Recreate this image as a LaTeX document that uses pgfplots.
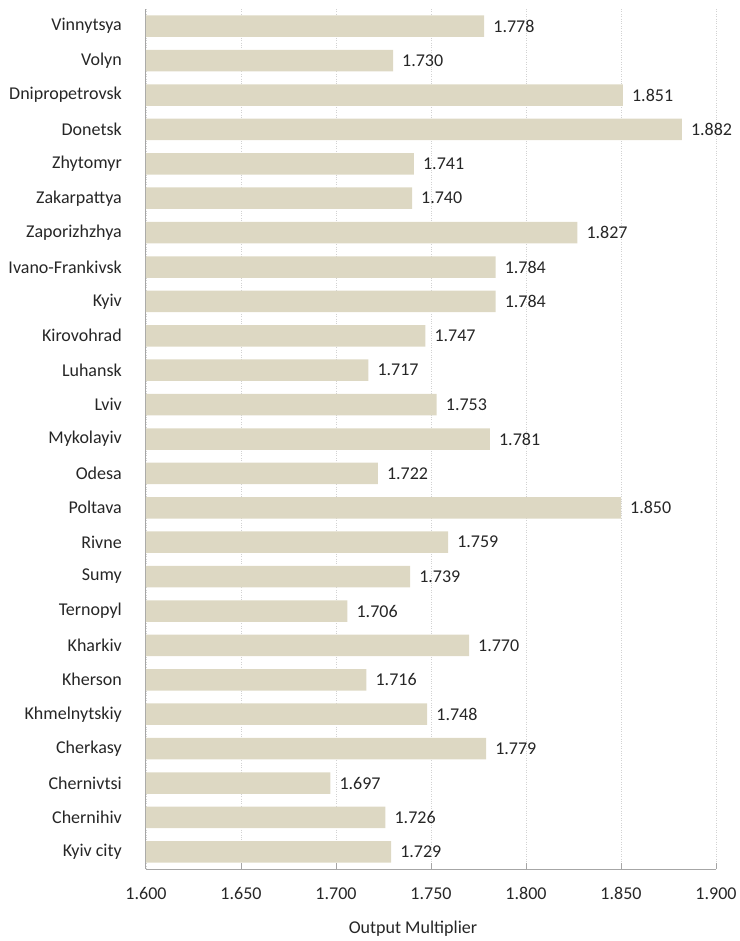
\documentclass[border=0pt]{standalone}
\usepackage{pgfplots}
\pgfplotsset{compat=1.18}
\usepackage{fontspec}
\setmainfont{Carlito}
\definecolor{barc}{HTML}{DDD8C3}
\definecolor{axc}{HTML}{A6A6A6}
\definecolor{txt}{HTML}{262626}
\begin{document}
\begin{tikzpicture}
\begin{axis}[
  scale only axis,
  width=570pt, height=860pt,
  xbar,
  bar width=21.5pt,
  y dir=reverse,
  xmin=1.6, xmax=1.9,
  ymin=-0.5, ymax=24.5,
  xtick={1.6,1.65,1.7,1.75,1.8,1.85,1.9},
  ytick={0,...,24},
  yticklabels={Vinnytsya,Volyn,Dnipropetrovsk,Donetsk,Zhytomyr,Zakarpattya,Zaporizhzhya,Ivano-Frankivsk,Kyiv,Kirovohrad,Luhansk,Lviv,Mykolayiv,Odesa,Poltava,Rivne,Sumy,Ternopyl,Kharkiv,Kherson,Khmelnytskiy,Cherkasy,Chernivtsi,Chernihiv,Kyiv city},
  axis x line*=bottom,
  axis y line*=left,
  axis line style={axc, line width=1pt},
  every outer x axis line/.append style={-},
  every outer y axis line/.append style={-},
  xtick style={axc, line width=1pt},
  xtick align=inside,
  major tick length=6pt,
  ytick style={draw=none},
  xmajorgrids,
  major grid style={gray!35, dotted, line width=0.7pt},
  /pgf/number format/assume math mode=true,
  /pgf/number format/.cd, fixed, fixed zerofill, precision=3, /pgfplots/.cd,
  ticklabel style={font=\fontsize{18}{21}\selectfont, text=txt},
  xticklabel={\rule{0pt}{30pt}\pgfmathprintnumber{\tick}},
  x tick label style={anchor=north, inner sep=0pt},
  y tick label style={anchor=east, inner sep=0pt, xshift=-18pt},
  xlabel={\rule{0pt}{33.5pt}Output Multiplier},
  xlabel style={font=\fontsize{18}{21}\selectfont, text=txt, inner sep=0pt, anchor=north, xshift=-18pt},
  nodes near coords,
  nodes near coords style={font=\fontsize{18}{21}\selectfont, text=txt, anchor=west, inner sep=0pt, xshift=9pt,
    /pgf/number format/.cd, fixed, fixed zerofill, precision=3, assume math mode=true},
]
\addplot[fill=barc, draw=none] coordinates {
(1.778,0) (1.730,1) (1.851,2) (1.882,3) (1.741,4) (1.740,5) (1.827,6) (1.784,7) (1.784,8) (1.747,9)
(1.717,10) (1.753,11) (1.781,12) (1.722,13) (1.850,14) (1.759,15) (1.739,16) (1.706,17) (1.770,18) (1.716,19)
(1.748,20) (1.779,21) (1.697,22) (1.726,23) (1.729,24)};
\end{axis}
\path ([xshift=-146pt,yshift=-72pt]current axis.south west) rectangle ([xshift=24pt,yshift=9pt]current axis.north east);
\end{tikzpicture}
\end{document}
